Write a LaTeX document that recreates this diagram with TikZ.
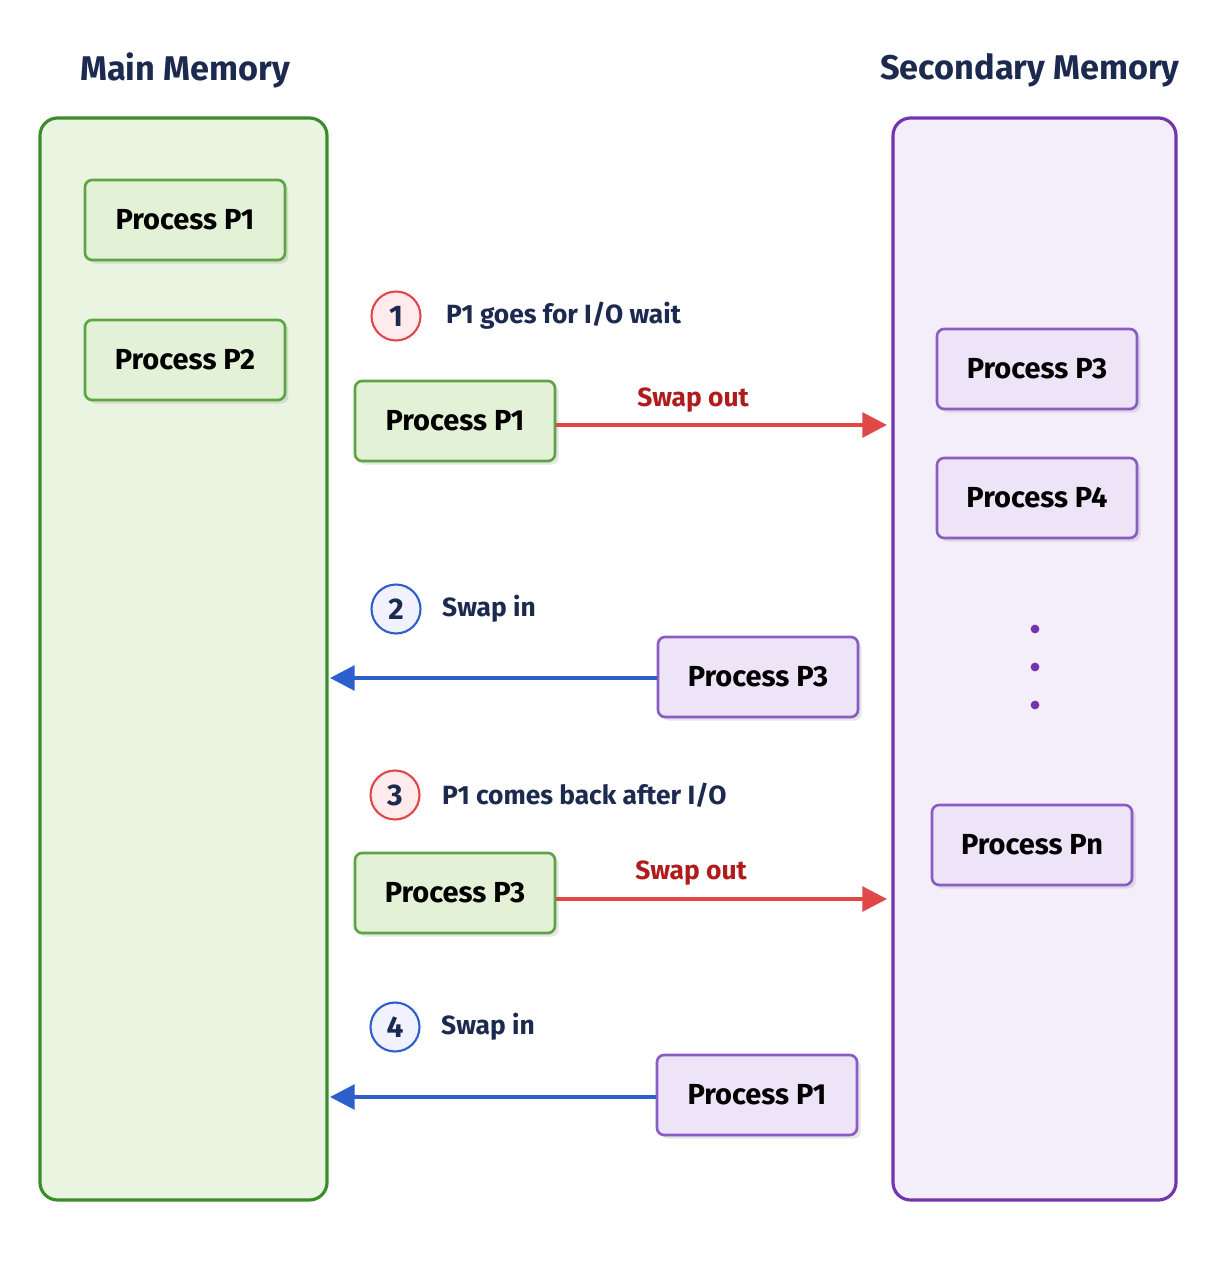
\documentclass[tikz,border=0pt]{standalone}
\usepackage{fontspec}
\setmainfont{Fira Sans}
\usetikzlibrary{shadows,arrows.meta}
\definecolor{navy}{HTML}{1B2A4E}
\definecolor{gborder}{HTML}{3C8C2C}
\definecolor{gfill}{HTML}{EAF5E1}
\definecolor{pborder}{HTML}{7434AE}
\definecolor{pfill}{HTML}{F3EEFA}
\definecolor{gpb}{HTML}{5CA444}
\definecolor{gpf}{HTML}{E3F2D6}
\definecolor{ppb}{HTML}{8A5CC4}
\definecolor{ppf}{HTML}{EDE4F8}
\definecolor{redA}{HTML}{E04848}
\definecolor{redT}{HTML}{B01C1C}
\definecolor{blueA}{HTML}{2C5FCC}
\begin{document}
\begin{tikzpicture}[x=0.02cm,y=-0.02cm,
  title/.style={font=\fontsize{19.5}{22}\selectfont\bfseries,text=navy},
  gproc/.style={draw=gpb,fill=gpf,line width=1.5pt,rounded corners=4pt,minimum width=4cm,minimum height=1.6cm,font=\fontsize{16.5}{19}\selectfont\bfseries,text=black,drop shadow={opacity=0.2,shadow xshift=2pt,shadow yshift=-2pt}},
  pproc/.style={gproc,draw=ppb,fill=ppf},
  step/.style={circle,draw=#1,line width=1.2pt,minimum size=0.98cm,inner sep=0pt,font=\fontsize{17}{20}\selectfont\bfseries,text=navy},
  lbl/.style={font=\fontsize{15}{17}\selectfont\bfseries,text=navy,anchor=west},
  swl/.style={font=\fontsize{15}{17}\selectfont\bfseries,text=redT},
  rarr/.style={draw=redA,line width=2.2pt,-{Triangle[length=14pt,width=14pt]}},
  barr/.style={draw=blueA,line width=2.2pt,-{Triangle[length=14pt,width=14pt]}},
]
\fill[white] (0,0) rectangle (1229,1280);
\node[title] (tm) at (185,70) {Main Memory};
\node[title] (ts) at (1030,70) {Secondary Memory};
\draw[draw=gborder,fill=gfill,line width=1.8pt,rounded corners=10pt] (40,118) rectangle (327,1200);
\draw[draw=pborder,fill=pfill,line width=1.8pt,rounded corners=10pt] (893,118) rectangle (1176,1200);
\node[gproc] (m1) at (185,220) {Process P1};
\node[gproc] (m2) at (185,360) {Process P2};
\node[pproc] (s3) at (1037,369) {Process P3};
\node[pproc] (s4) at (1037,498) {Process P4};
\foreach \y/\n in {629/d1,667/d2,705/d3}{\node[circle,fill=pborder,inner sep=0pt,minimum size=5pt] (\n) at (1035,\y) {};}
\node[pproc] (sn) at (1032,845) {Process Pn};
% step 1
\node[step=redA,fill=red!8] (c1) at (396,316) {1};
\node[lbl] (l1) at (440,316) {P1 goes for I/O wait};
\node[gproc] (a1) at (455,421) {Process P1};
\coordinate (e1) at (887,425);
\draw[rarr] (a1.east|-e1) -- (e1);
\node[swl] (w1) at (693,400) {Swap out};
% step 2
\node[step=blueA,fill=blue!5] (c2) at (396,609) {2};
\node[lbl] (l2) at (436,609) {Swap in};
\node[pproc] (a2) at (758,677) {Process P3};
\coordinate (e2) at (330,678);
\draw[barr] (a2.west|-e2) -- (e2);
% step 3
\node[step=redA,fill=red!8] (c3) at (395,795) {3};
\node[lbl] (l3) at (436,795) {P1 comes back after I/O};
\node[gproc] (a3) at (455,893) {Process P3};
\coordinate (e3) at (887,899);
\draw[rarr] (a3.east|-e3) -- (e3);
\node[swl] (w3) at (691,873) {Swap out};
% step 4
\node[step=blueA,fill=blue!5] (c4) at (395,1027) {4};
\node[lbl] (l4) at (435,1027) {Swap in};
\node[pproc] (a4) at (757,1095) {Process P1};
\coordinate (e4) at (330,1097);
\draw[barr] (a4.west|-e4) -- (e4);
\end{tikzpicture}
\end{document}
